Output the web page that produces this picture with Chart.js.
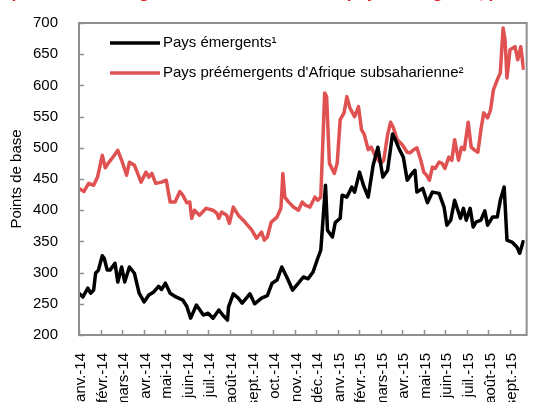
<!DOCTYPE html>
<html>
<head>
<meta charset="utf-8">
<script src="https://cdn.jsdelivr.net/npm/chart.js@4/dist/chart.umd.min.js"></script>
<style>
html,body{margin:0;padding:0;background:#fff;overflow:hidden;}
canvas{display:block;}
</style>
</head>
<body>
<canvas id="c" width="538" height="402"></canvas>
<script>
// Month tick labels (x = month index, 0 = 1 Jan 2014)
const months = ['janv.-14','févr.-14','mars-14','avr.-14','mai-14','juin-14','juil.-14','août-14','sept.-14','oct.-14','nov.-14','déc.-14','janv.-15','févr.-15','mars-15','avr.-15','mai-15','juin-15','juil.-15','août-15','sept.-15'];
const yTicks = [200,250,300,350,400,450,500,550,600,650,700];
const titlePrefix = 'Spreads des obligations souveraines des ';
const titleText = titlePrefix + 'pays émergents, préémergents et';
const yTitle = 'Points de base';
const legendLabels = ['Pays émergents¹', "Pays préémergents d'Afrique subsaharienne²"];

// Pays émergents (black) - time in months, value in basis points
const emergT = [0,0.18,0.41,0.54,0.68,0.77,0.90,1.08,1.17,1.31,1.44,1.67,1.80,1.98,2.12,2.34,2.57,2.79,3.02,3.24,3.47,3.69,3.83,4.01,4.23,4.50,4.82,5.00,5.18,5.45,5.77,5.99,6.22,6.49,6.67,6.89,6.94,7.16,7.39,7.57,7.93,8.15,8.47,8.74,8.96,9.19,9.41,9.64,9.91,10.18,10.41,10.63,10.86,11.08,11.22,11.44,11.53,11.76,11.89,12.12,12.21,12.43,12.66,12.79,13.02,13.20,13.42,13.65,13.87,14.10,14.32,14.55,14.68,14.82,15.05,15.23,15.45,15.59,15.68,15.95,16.17,16.40,16.71,16.94,17.07,17.25,17.43,17.70,17.84,17.97,18.15,18.29,18.42,18.65,18.83,18.96,19.19,19.41,19.55,19.73,19.86,20.09,20.32,20.45,20.63];
const emergV = [267,261,275,267,272,299,304,327,323,304,304,315,285,309,285,309,299,267,253,264,269,278,273,283,267,261,256,246,227,248,232,235,227,240,232,224,245,266,259,251,266,250,259,263,283,288,309,293,272,283,293,290,301,323,336,440,368,357,380,387,424,421,437,429,461,440,421,472,501,453,464,522,513,501,485,448,459,464,429,435,412,429,427,405,376,384,416,387,403,384,403,373,381,384,399,376,389,389,416,437,352,349,341,331,352];

// Pays préémergents d'Afrique subsaharienne (red)
const preT = [0,0.23,0.45,0.68,0.86,1.08,1.22,1.35,1.53,1.80,1.98,2.21,2.34,2.57,2.70,2.88,3.11,3.24,3.38,3.56,3.83,4.05,4.23,4.46,4.68,4.82,5.00,5.14,5.23,5.36,5.59,5.90,6.22,6.40,6.49,6.62,6.85,6.98,7.16,7.39,7.70,8.02,8.24,8.47,8.60,8.74,8.92,9.19,9.37,9.46,9.55,9.73,9.95,10.18,10.36,10.50,10.72,10.95,11.08,11.22,11.40,11.49,11.62,11.85,11.98,12.12,12.30,12.43,12.57,12.79,12.97,13.11,13.24,13.42,13.56,13.78,14.01,14.14,14.32,14.46,14.59,14.77,15.00,15.23,15.36,15.54,15.68,15.86,16.00,16.13,16.26,16.40,16.53,16.71,16.85,16.98,17.16,17.30,17.43,17.61,17.75,17.88,18.06,18.20,18.33,18.51,18.65,18.78,18.96,19.10,19.23,19.41,19.55,19.68,19.77,19.86,20.00,20.23,20.36,20.50,20.63];
const preV = [435,430,443,440,453,488,468,475,483,496,480,456,477,472,461,445,461,453,459,443,445,448,413,413,430,424,412,413,387,400,392,403,400,395,387,397,392,379,405,392,381,368,355,365,352,357,381,389,403,459,421,413,405,400,413,408,405,421,416,421,588,582,475,459,475,545,556,582,564,550,566,529,521,497,501,485,475,480,521,541,532,513,505,493,492,497,500,480,461,456,448,469,467,477,475,467,485,480,513,480,501,497,541,501,497,493,529,556,548,561,593,609,620,692,673,612,657,662,641,662,625];

const FONT = "'Liberation Sans', Arial, sans-serif";
Chart.defaults.font.family = FONT;
Chart.defaults.font.size = 15;
Chart.defaults.color = '#000';

const AXIS = '#8f8f8f';

const framePlugin = {
  id: 'frame',
  beforeDraw(chart) {
    const ctx = chart.ctx;
    ctx.save();
    ctx.setTransform(1, 0, 0, 1, 0, 0);
    ctx.fillStyle = '#fff';
    ctx.fillRect(0, 0, chart.width, chart.height);
    // clipped red title (only descenders visible at the top edge)
    ctx.font = "bold 15px " + FONT;
    const w = ctx.measureText(titlePrefix).width;
    const size = 15 * 347 / w;
    ctx.font = "bold " + size.toFixed(2) + "px " + FONT;
    ctx.fillStyle = '#e3202a';
    ctx.textAlign = 'left';
    ctx.textBaseline = 'alphabetic';
    ctx.fillText(titleText, 0, -2);
    ctx.restore();
  },
  afterDraw(chart) {
    const ctx = chart.ctx;
    const a = chart.chartArea;
    const xs = chart.scales.x, ys = chart.scales.y;
    ctx.save();
    ctx.strokeStyle = AXIS;
    ctx.lineWidth = 2;
    ctx.beginPath();
    ctx.rect(a.left, a.top, a.right - a.left + 2, a.bottom - a.top);
    ctx.stroke();
    ctx.lineWidth = 1.5;
    ctx.beginPath();
    yTicks.forEach(v => {
      const y = Math.round(ys.getPixelForValue(v)) + 0.5;
      ctx.moveTo(a.left, y); ctx.lineTo(a.left + 5, y);
    });
    months.forEach((m, i) => {
      const x = Math.round(xs.getPixelForValue(i)) + 0.5;
      ctx.moveTo(x, a.bottom); ctx.lineTo(x, a.bottom - 5);
    });
    ctx.stroke();
    // legend
    ctx.font = "15px " + FONT;
    ctx.textAlign = 'left';
    ctx.textBaseline = 'middle';
    chart.data.datasets.forEach((ds, i) => {
      const y = 43 + i * 30;
      ctx.strokeStyle = ds.borderColor;
      ctx.lineWidth = 3.5;
      ctx.beginPath();
      ctx.moveTo(110, y); ctx.lineTo(160, y);
      ctx.stroke();
      ctx.fillStyle = '#000';
      ctx.fillText(ds.label, 163, y);
    });
    ctx.restore();
  }
};

new Chart(document.getElementById('c'), {
  type: 'line',
  data: {
    datasets: [
      {
        label: legendLabels[0],
        data: emergT.map((t, i) => ({x: t, y: emergV[i]})),
        borderColor: '#000000',
        borderWidth: 3.5,
        pointRadius: 0,
        tension: 0,
        borderJoinStyle: 'round'
      },
      {
        label: legendLabels[1],
        data: preT.map((t, i) => ({x: t, y: preV[i]})),
        borderColor: '#e05252',
        borderWidth: 3.5,
        pointRadius: 0,
        tension: 0,
        borderJoinStyle: 'round'
      }
    ]
  },
  options: {
    responsive: false,
    animation: false,
    devicePixelRatio: 1,
    layout: { padding: { top: 23, right: 0, left: 0, bottom: 0 } },
    plugins: { legend: { display: false }, tooltip: { enabled: false } },
    scales: {
      x: {
        type: 'linear',
        min: 0,
        max: 20.68,
        afterBuildTicks: s => { s.ticks = months.map((_, i) => ({ value: i })); },
        afterFit: s => { s.height = 67; },
        grid: { display: false },
        border: { display: false },
        ticks: {
          autoSkip: false,
          minRotation: 90,
          maxRotation: 90,
          padding: 10,
          labelOffset: 2,
          font: { size: 15 },
          callback: v => months[v] !== undefined ? months[v] : ''
        }
      },
      y: {
        min: 200,
        max: 700,
        afterBuildTicks: s => { s.ticks = yTicks.map(v => ({ value: v })); },
        afterFit: s => { s.width = 79; },
        grid: { display: false },
        border: { display: false },
        ticks: { padding: 13, font: { size: 15 } },
        title: { display: true, text: yTitle, font: { size: 15 }, padding: { top: 8, bottom: 0 } }
      }
    }
  },
  plugins: [framePlugin]
});
</script>
</body>
</html>
